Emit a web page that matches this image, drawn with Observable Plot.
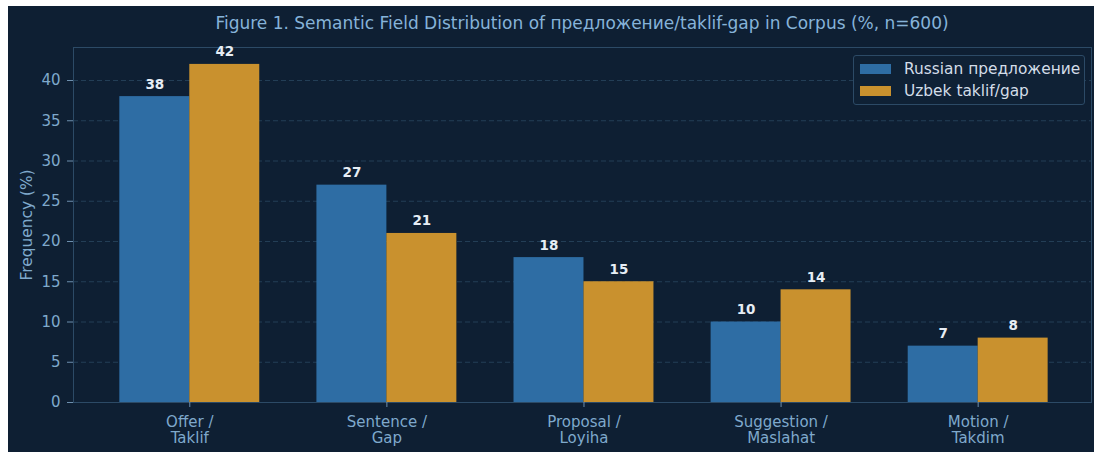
<!DOCTYPE html>
<html>
<head>
<meta charset="utf-8">
<script src="https://cdn.jsdelivr.net/npm/d3@7"></script>
<script src="https://cdn.jsdelivr.net/npm/@observablehq/plot@0.6"></script>
<style>
  html, body { margin: 0; padding: 0; background: #ffffff; }
  body { padding: 6px 0 0 8px; }
  #wrap { position: relative; width: 1086px; height: 446px; background: #0e1f33; overflow: hidden; font-family: "DejaVu Sans", sans-serif; }
  #title { position: absolute; left: 65px; width: 1018px; top: 7px; text-align: center; font-size: 17px; color: #86b3d9; white-space: nowrap; }
  #chart { position: absolute; left: 0; top: 34px; }
  #ylabel { position: absolute; left: 19px; top: 219px; font-size: 15.4px; color: #7fa9cc; transform: translate(-50%, -50%) rotate(-90deg); white-space: nowrap; }
  #legend { position: absolute; left: 845px; top: 49px; width: 232px; height: 50px; border: 1px solid #2c4a66; border-radius: 3px; background: #0f2135; box-sizing: border-box; }
  .item { position: absolute; left: 6px; display: flex; align-items: center; font-size: 15.4px; color: #d3dde8; height: 20px; }
  .sw { width: 31px; height: 10px; margin-right: 13px; }
</style>
</head>
<body>
<div id="wrap">
  <div id="title"></div>
  <div id="chart"></div>
  <div id="ylabel">Frequency (%)</div>
  <div id="legend"></div>
</div>
<script>
const titleText = "Figure 1. Semantic Field Distribution of предложение/taklif-gap in Corpus (%, n=600)";
const categories = ["Offer /\nTaklif", "Sentence /\nGap", "Proposal /\nLoyiha", "Suggestion /\nMaslahat", "Motion /\nTakdim"];
const seriesNames = ["Russian предложение", "Uzbek taklif/gap"];
const russian = [38, 27, 18, 10, 7];
const uzbek = [42, 21, 15, 14, 8];
const yTicks = [0, 5, 10, 15, 20, 25, 30, 35, 40];
const colors = ["#2e6da4", "#c9912e"];

const barW = 0.355;
const rows = [];
categories.forEach((c, i) => {
  rows.push({i, s: 0, value: russian[i], x1: i - barW, x2: i});
  rows.push({i, s: 1, value: uzbek[i], x1: i, x2: i + barW});
});

document.getElementById("title").textContent = titleText;

const tickColor = "#7fa9cc";
const plot = Plot.plot({
  width: 1086,
  height: 412,
  marginLeft: 65,
  marginRight: 3,
  marginTop: 7,
  marginBottom: 50,
  style: {background: "transparent", color: tickColor, fontFamily: "DejaVu Sans, sans-serif", fontSize: "15px", overflow: "visible"},
  x: {type: "linear", domain: [-0.59, 4.575]},
  y: {domain: [0, 44.1]},
  marks: [
    Plot.gridY(yTicks, {stroke: "#2a4660", strokeOpacity: 1, strokeDasharray: "5,3", strokeWidth: 0.8}),
    Plot.rectY(rows, {x1: "x1", x2: "x2", y1: 0, y2: "value", fill: d => colors[d.s], inset: 0}),
    Plot.frame({stroke: "#2c4a66", strokeWidth: 1}),
    Plot.text(rows, {x: d => (d.x1 + d.x2) / 2, y: "value", text: d => String(d.value), dy: -8, lineAnchor: "bottom", fontWeight: "bold", fill: "#e6edf5", fontSize: 13.5}),
    Plot.axisY(yTicks, {tickSize: 6, tickPadding: 7, label: null, stroke: "#6d8fae", fill: tickColor, fontSize: 15}),
    Plot.axisX(d3.range(categories.length), {tickFormat: i => categories[i], tickSize: 5, tickPadding: 8, label: null, stroke: "#6d8fae", fill: tickColor, fontSize: 15, lineHeight: 1.07})
  ]
});
document.getElementById("chart").appendChild(plot);

const legend = document.getElementById("legend");
seriesNames.forEach((n, k) => {
  const it = document.createElement("div");
  it.className = "item";
  it.style.top = (3 + k * 22) + "px";
  const sw = document.createElement("div");
  sw.className = "sw";
  sw.style.background = colors[k];
  const t = document.createElement("span");
  t.textContent = n;
  it.appendChild(sw);
  it.appendChild(t);
  legend.appendChild(it);
});
</script>
</body>
</html>
